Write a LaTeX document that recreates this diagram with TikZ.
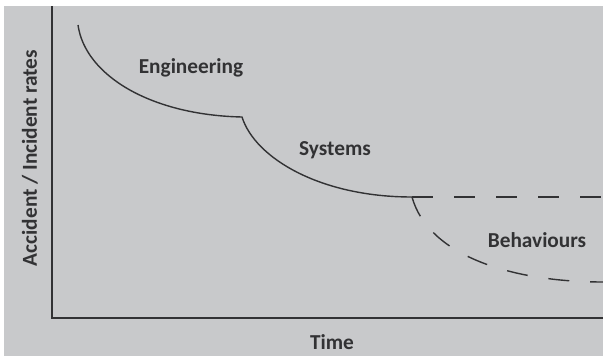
\documentclass[tikz,border=0pt]{standalone}
\usepackage{fontspec}
\setmainfont{Carlito}
\definecolor{panel}{RGB}{200,201,203}
\definecolor{ink}{RGB}{50,50,52}
\begin{document}
\begin{tikzpicture}[x=1pt,y=-1pt,font=\fontsize{21.3}{23}\selectfont\bfseries,
	lbl/.style={text=ink,inner sep=0pt},
	curve/.style={draw=ink,line width=1.4pt},
	fut/.style={curve,dash pattern=on 21pt off 21pt}]
				\useasboundingbox (0,0) rectangle (603,356);
				\fill[panel] (4,6) rectangle (603,356);
				\path (52,6) coordinate (Y)
				(52,318) coordinate (O)
				(603,318) coordinate (X)
				(78,25) coordinate (P0)
				(242,117) coordinate (P1)
				(412,197) coordinate (P2)
				(603,197) coordinate (P3)
				(603,282) coordinate (P4);
				\draw[draw=ink,line width=1.8pt] (Y)--(O)--(X);
				\draw[curve] (P0) .. controls (85,75) and (150,115) .. (P1)
				.. controls (255,158) and (320,197) .. (P2);
				\draw[fut] (P2)--(P3);
				\draw[fut] (P2) .. controls (428,255) and (510,282) .. (P4);
				\foreach \n/\p/\t in {eng/{(191,68)}/Engineering, sys/{(335,150)}/Systems,
					beh/{(537,240)}/Behaviours, time/{(332,342)}/Time}{
					\node[lbl] (\n) at \p {\t};
				}
				\node[lbl,rotate=90] (rate) at (30,158) {Accident / Incident rates};
			\end{tikzpicture}
\end{document}
